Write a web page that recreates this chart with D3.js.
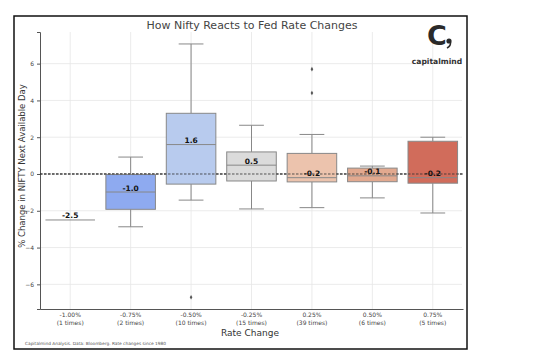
<!DOCTYPE html>
<html><head><meta charset="utf-8">
<script src="https://cdn.jsdelivr.net/npm/d3@7"></script>
<style>body{margin:0;background:#fff}svg{display:block}text{font-family:"DejaVu Sans",sans-serif}</style>
</head><body><svg id="c" width="536" height="361"></svg>
<script>
const categories = ["-1.00%","-0.75%","-0.50%","-0.25%","0.25%","0.50%","0.75%"];
const counts = [1,2,10,15,39,6,5];
const q1 = [-2.5,-1.92,-0.55,-0.38,-0.43,-0.42,-0.5];
const medians = [-2.5,-0.98,1.6,0.48,-0.2,-0.1,-0.2];
const q3 = [-2.5,-0.03,3.3,1.2,1.12,0.32,1.78];
const whiskLo = [-2.5,-2.87,-1.42,-1.9,-1.83,-1.3,-2.12];
const whiskHi = [-2.5,0.92,7.07,2.65,2.15,0.43,2.0];
const outliers = [[],[],[-6.7],[],[5.7,4.4],[],[]];
const labels = ["-2.5","-1.0","1.6","0.5","-0.2","-0.1","-0.2"];
const colors = ["#ffffff","#8eaaf0","#b8cbee","#dbdbdb","#ecc3ad","#e2a98f","#d16c5b"];
const yTicks = [-6,-4,-2,0,2,4,6];

const svg = d3.select("#c");
const L=40,R=463,T=32,B=309;
const x = d3.scaleBand().domain(categories).range([L,R]).padding(0);
const y = d3.scaleLinear().domain([-7.34,7.72]).range([B,T]);

svg.append("rect").attr("x",14).attr("y",16).attr("width",453).attr("height",333).attr("fill","#fff").attr("stroke","#111").attr("stroke-width",1.5);

// grid
svg.append("g").selectAll("line").data(yTicks).join("line")
  .attr("x1",L).attr("x2",R-1).attr("y1",d=>y(d)).attr("y2",d=>y(d)).attr("stroke","#e6e6e6").attr("stroke-width",0.8);
svg.append("g").selectAll("line").data(categories).join("line")
  .attr("x1",d=>x(d)+x.bandwidth()/2).attr("x2",d=>x(d)+x.bandwidth()/2).attr("y1",T).attr("y2",B).attr("stroke","#e6e6e6").attr("stroke-width",0.8);

// axes
const ya = svg.append("g").attr("transform",`translate(${L},0)`).call(d3.axisLeft(y).tickValues(yTicks).tickSize(3).tickFormat(d=>d<0?"\u2212"+Math.abs(d):d));
ya.select(".domain").attr("stroke","#555");
ya.selectAll(".tick line").attr("stroke","#555");
ya.selectAll("text").attr("font-size",6).attr("fill","#444").attr("font-family","DejaVu Sans");
const xa = svg.append("g").attr("transform",`translate(0,${B})`).call(d3.axisBottom(x).tickSize(0).tickFormat(""));
xa.select(".domain").attr("stroke","#555");
xa.selectAll(".tick").each(function(d,i){
  const t=d3.select(this).append("text").attr("fill","#444").attr("font-size",6).attr("text-anchor","middle").attr("font-family","DejaVu Sans");
  t.append("tspan").attr("x",0).attr("y",8).text(d);
  t.append("tspan").attr("x",0).attr("y",15.5).text(`(${counts[i]} times)`);
});

// zero line
svg.append("line").attr("x1",L).attr("x2",R).attr("y1",y(0)).attr("y2",y(0)).attr("stroke","#333").attr("stroke-width",1).attr("stroke-dasharray","2.5,1.5");

// boxes
const bw = x.bandwidth()*0.82;
const g = svg.append("g");
categories.forEach((c,i)=>{
  const cx = x(c)+x.bandwidth()/2;
  const gg = g.append("g");
  const st="#888";
  if(i===0){
    gg.append("line").attr("x1",cx-bw/2).attr("x2",cx+bw/2).attr("y1",y(medians[i])).attr("y2",y(medians[i])).attr("stroke",st).attr("stroke-width",1);
  } else {
    gg.append("line").attr("x1",cx).attr("x2",cx).attr("y1",y(q3[i])).attr("y2",y(whiskHi[i])).attr("stroke",st).attr("stroke-width",1);
    gg.append("line").attr("x1",cx).attr("x2",cx).attr("y1",y(q1[i])).attr("y2",y(whiskLo[i])).attr("stroke",st).attr("stroke-width",1);
    gg.append("line").attr("x1",cx-bw/4).attr("x2",cx+bw/4).attr("y1",y(whiskHi[i])).attr("y2",y(whiskHi[i])).attr("stroke",st).attr("stroke-width",1);
    gg.append("line").attr("x1",cx-bw/4).attr("x2",cx+bw/4).attr("y1",y(whiskLo[i])).attr("y2",y(whiskLo[i])).attr("stroke",st).attr("stroke-width",1);
    gg.append("rect").attr("x",cx-bw/2).attr("width",bw).attr("y",y(q3[i])).attr("height",y(q1[i])-y(q3[i])).attr("fill",colors[i]).attr("stroke",st).attr("stroke-width",1);
    gg.append("line").attr("x1",cx-bw/2).attr("x2",cx+bw/2).attr("y1",y(medians[i])).attr("y2",y(medians[i])).attr("stroke",st).attr("stroke-width",1);
  }
  outliers[i].forEach(o=>gg.append("path").attr("d",d3.symbol(d3.symbolDiamond,6)()).attr("transform",`translate(${cx},${y(o)})`).attr("fill","#555"));
  gg.append("text").attr("x",cx).attr("y",y(medians[i])-1.5).attr("text-anchor","middle").attr("font-size",7.5).attr("font-weight","bold").attr("fill","#111").text(labels[i]);
});
// redraw zero line over boxes
svg.append("line").attr("x1",L).attr("x2",R).attr("y1",y(0)).attr("y2",y(0)).attr("stroke","#333").attr("stroke-width",1).attr("stroke-dasharray","2.5,1.5").attr("opacity",0.8);

// texts
svg.append("text").attr("x",252).attr("y",29).attr("text-anchor","middle").attr("font-size",11).attr("fill","#444").text("How Nifty Reacts to Fed Rate Changes");
svg.append("text").attr("x",250).attr("y",336).attr("text-anchor","middle").attr("font-size",9).attr("fill","#333").text("Rate Change");
svg.append("text").attr("transform","translate(25,166) rotate(-90)").attr("text-anchor","middle").attr("font-size",8.5).attr("fill","#333").text("% Change in NIFTY Next Available Day");
svg.append("text").attr("x",25).attr("y",345).attr("font-size",4.3).attr("fill","#555").text("Capitalmind Analysis. Data: Bloomberg. Rate changes since 1980");
// logo
svg.append("text").attr("x",437).attr("y",45).attr("text-anchor","middle").attr("font-size",27).attr("font-weight","bold").attr("font-family","DejaVu Serif").attr("fill","#2a2a2a").text("C");
svg.append("circle").attr("cx",449).attr("cy",41).attr("r",2.6).attr("fill","#2a2a2a");
svg.append("path").attr("d","M450.5,42 Q451,46 447,48").attr("stroke","#2a2a2a").attr("stroke-width",1.5).attr("fill","none");
svg.append("text").attr("x",437).attr("y",64).attr("text-anchor","middle").attr("font-size",7.6).attr("font-weight","bold").attr("fill","#333").text("capitalmind");
</script></body></html>
